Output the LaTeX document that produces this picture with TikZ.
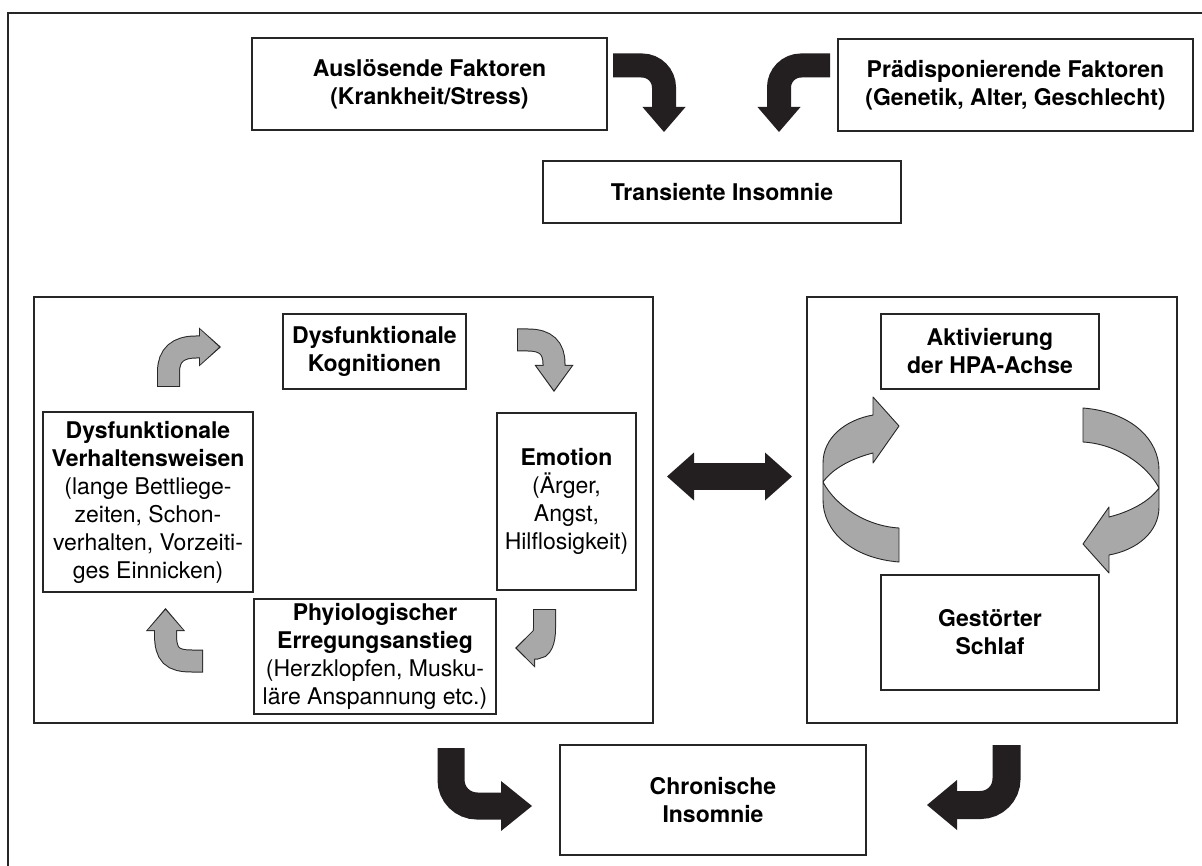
\documentclass[tikz,border=0pt]{standalone}
\usepackage{fontspec}
\setmainfont{TeX Gyre Heros}
\usetikzlibrary{arrows.meta}

\definecolor{arrowgray}{gray}{0.66}
\definecolor{arrowblack}{HTML}{231F20}

% grey bent arrow with a thin black outline, #1 = head length
\newcommand\greyarrow[2][20]{%
  \pgfmathsetmacro\outerlen{#1+3}%
  \draw[line width=23pt, black!85, -{Triangle[length=\outerlen pt,width=39pt,line width=0pt]}] #2;
  \draw[line width=21pt, arrowgray, shorten <=1pt, shorten >=2pt, -{Triangle[length=#1pt,width=35pt,line width=0pt]}] #2;}

\begin{document}
\begin{tikzpicture}[x=1pt, y=-1pt,
    box/.style={draw=black!85, line width=1.2pt, inner sep=0pt, align=center, font=\fontsize{23}{28}\selectfont},
    panel/.style={draw=black!85, line width=1.2pt, inner sep=0pt},
    blk/.style={line width=24pt, arrowblack},
    ribbon/.style={draw=black!85, fill=arrowgray, line width=0.9pt, line join=round}]
  \useasboundingbox (0,0) rectangle (1202,866);
  \draw[line width=1.6pt, black!85] (8,866) |- (1202,13);
  % top row
  \node[box, minimum width=355pt, minimum height=92pt] (ausl) at (429.5,84) {\textbf{Auslösende Faktoren}\\\textbf{(Krankheit/Stress)}};
  \node[box, minimum width=355pt, minimum height=92pt] (praed) at (1015.5,85) {\textbf{Prädisponierende Faktoren}\\\textbf{(Genetik, Alter, Geschlecht)}};
  \node[box, minimum width=358pt, minimum height=62pt] (trans) at (722,192) {\textbf{Transiente Insomnie}};
  \coordinate (b1s) at (613,65.5); \coordinate (b1e) at (664,132);
  \coordinate (b2s) at (830,65.5); \coordinate (b2e) at (779,132);
  \draw[blk, rounded corners=22pt, -{Triangle[length=25pt,width=43pt,line width=0pt]}] (b1s) -| (b1e);
  \draw[blk, rounded corners=22pt, -{Triangle[length=25pt,width=43pt,line width=0pt]}] (b2s) -| (b2e);
  % the two panels
  \node[panel, minimum width=619pt, minimum height=426pt] (left) at (343.5,510) {};
  \node[panel, minimum width=370pt, minimum height=426pt] (right) at (992,510) {};
  \node[box, minimum width=183pt, minimum height=75pt] (kogn) at (374.5,351.5) {\textbf{Dysfunktionale}\\\textbf{Kognitionen}};
  \node[box, minimum width=139pt, minimum height=177pt] (emot) at (566.5,501.5) {\textbf{Emotion}\\(Ärger,\\Angst,\\Hilflosigkeit)};
  \node[box, minimum width=242pt, minimum height=115pt] (phys) at (375,656.5) {\textbf{Phyiologischer}\\\textbf{Erregungsanstieg}\\(Herzklopfen, Musku-\\läre Anspannung etc.)};
  \node[box, minimum width=210pt, minimum height=180pt] (verh) at (148,502) {\textbf{Dysfunktionale}\\\textbf{Verhaltensweisen}\\(lange Bettliege-\\zeiten, Schon-\\verhalten, Vorzeiti-\\ges Einnicken)};
  \greyarrow[19]{(168.5,387) -- (168.5,372) .. controls (168.5,355) and (178,347) .. (196,347) -- (221,347)}
  \greyarrow[24]{(517,340) -- (528,340) .. controls (546,340) and (554,348) .. (554,364) -- (554,392)}
  \greyarrow[17]{(544.5,609) -- (544.5,628) .. controls (544.5,642) and (541,648) .. (536,648) -- (515,648)}
  \greyarrow[20]{(203,661) -- (192,661) .. controls (172,661) and (165.5,655) .. (165.5,634) -- (165.5,608)}
  \node[box, minimum width=218pt, minimum height=75pt] (aktiv) at (990,351.5) {\textbf{Aktivierung}\\\textbf{der HPA-Achse}};
  \node[box, minimum width=218pt, minimum height=115pt] (gest) at (990,632.5) {\textbf{Gestörter}\\\textbf{Schlaf}};
  \foreach \a in {0,180} {
    \begin{scope}[rotate around={\a:(991,485)}]
      \filldraw[ribbon] (899,562) .. controls (850,558) and (823,530) .. (823,500) -- (823,482) .. controls (835,505) and (865,526) .. (899,528) -- cycle;
      \filldraw[ribbon] (823,482) -- (823,463) .. controls (823,438) and (845,420) .. (873,415) -- (873,397) -- (899,426) -- (873,463) -- (873,453) .. controls (853,458) and (833,468) .. (823,482) -- cycle;
    \end{scope}
  }
  \coordinate (dl) at (667,476.5); \coordinate (dr) at (792,476.5);
  \draw[line width=27pt, arrowblack, {Triangle[length=27pt,width=48pt,line width=0pt]}-{Triangle[length=27pt,width=48pt,line width=0pt]}] (dl) -- (dr);
  % bottom
  \node[box, minimum width=306pt, minimum height=110pt] (chron) at (713,800) {\textbf{Chronische}\\\textbf{Insomnie}};
  \coordinate (b3s) at (451,748); \coordinate (b3e) at (532,806);
  \coordinate (b4s) at (1006.5,745); \coordinate (b4e) at (927,805);
  \draw[blk, line width=27pt, rounded corners=26pt, -{Triangle[length=31pt,width=50pt,line width=0pt]}] (b3s) |- (b3e);
  \draw[blk, line width=28pt, rounded corners=26pt, -{Triangle[length=30pt,width=50pt,line width=0pt]}] (b4s) |- (b4e);
\end{tikzpicture}
\end{document}
